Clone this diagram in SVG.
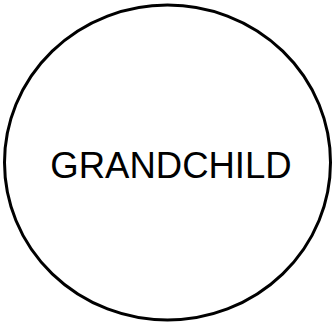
<svg xmlns="http://www.w3.org/2000/svg" width="334" height="328" viewBox="0 0 334 328">
<style>
.node-shape{fill:#fff;stroke:#000;stroke-width:3}
.label{font-family:"Liberation Sans",Arial,sans-serif;font-size:36.5px;fill:#000}
</style>
<rect width="334" height="328" fill="#fff"/>
<g id="connectors"></g>
<g id="grandchild">
<ellipse class="node-shape" cx="167.5" cy="162.5" rx="163" ry="157.5"/>
<text class="label" x="171" y="178" text-anchor="middle">GRANDCHILD</text>
</g>
</svg>
